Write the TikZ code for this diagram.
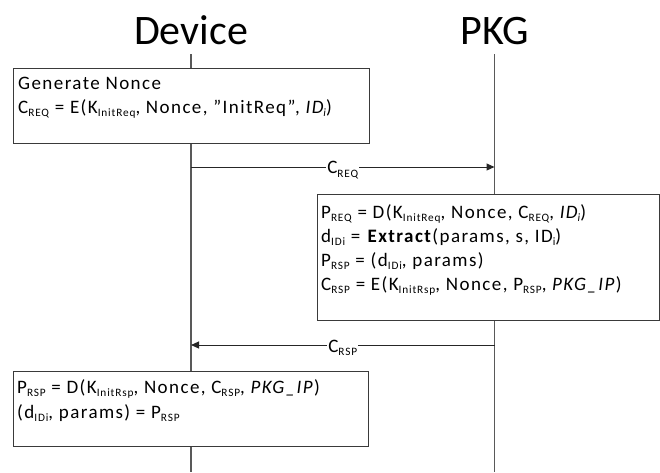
\documentclass[tikz,border=0pt]{standalone}
\usepackage{fontspec}
\setmainfont{Carlito}
\newfontfamily\bodyfont[LetterSpace=7.5]{Carlito}
\usetikzlibrary{arrows.meta}
\newcommand{\sbx}[1]{\raisebox{-3.3pt}{\fontsize{11.3}{11.3}\selectfont #1}}
\definecolor{linegray}{HTML}{595959}
\definecolor{boxgray}{HTML}{3A3A3A}
\tikzset{
  actor/.style={font=\fontsize{42}{46}\selectfont, anchor=base, inner sep=0pt},
  life/.style={draw=linegray, line width=1.3pt},
  pbox/.style={draw=boxgray, line width=1.2pt, fill=white, anchor=north west, inner sep=0pt},
  txt/.style={font=\bodyfont\fontsize{19}{24}\selectfont, anchor=base west, inner sep=0pt},
  msg/.style={draw=black!85, line width=1pt, -{Triangle[length=8pt,width=7pt]}},
  mlabel/.style={font=\bodyfont\fontsize{19}{24}\selectfont, fill=white, inner sep=1pt, yshift=-3pt}
}
\begin{document}
\begin{tikzpicture}[x=1pt,y=-1pt]
\useasboundingbox (0,0) rectangle (660,472);
% actors
\node[actor] (dev) at (191,44) {Device};
\node[actor] (pkg) at (494.5,44) {PKG};
\coordinate (devtop) at (191,54);
\coordinate (devbot) at (191,472);
\coordinate (pkgtop) at (494.5,54);
\coordinate (pkgbot) at (494.5,472);
\draw[life] (devtop) -- (devbot);
\draw[life] (pkgtop) -- (pkgbot);
% box 1
\node[pbox, minimum width=356pt, minimum height=75pt] (b1) at (13,68) {};
\node[txt] (b1l1) at (18,89) {Generate Nonce};
\node[txt] (b1l2) at (18,113) {C\sbx{REQ} = E(K\sbx{InitReq}, Nonce, ”InitReq”, \textit{ID\sbx{i}})};
% message 1
\coordinate (m1a) at (191,167);
\coordinate (m1b) at (494.5,167);
\draw[msg] (m1a) -- (m1b) node[mlabel, midway] (m1l) {C\sbx{REQ}};
% box 2
\node[pbox, minimum width=342pt, minimum height=126pt] (b2) at (317,194) {};
\node[txt] (b2l1) at (321,218) {P\sbx{REQ} = D(K\sbx{InitReq}, Nonce, C\sbx{REQ}, \textit{ID\sbx{i}})};
\node[txt] (b2l2) at (321,242.5) {d\sbx{IDi} = \textbf{Extract}(params, s, ID\sbx{i})};
\node[txt] (b2l3) at (321,266.5) {P\sbx{RSP} = (d\sbx{IDi}, params)};
\node[txt] (b2l4) at (321,290.5) {C\sbx{RSP} = E(K\sbx{InitRsp}, Nonce, P\sbx{RSP}, \textit{PKG\_IP})};
% message 2
\coordinate (m2a) at (494.5,345);
\coordinate (m2b) at (191,345);
\draw[msg] (m2a) -- (m2b) node[mlabel, midway] (m2l) {C\sbx{RSP}};
% box 3
\node[pbox, minimum width=355pt, minimum height=75pt] (b3) at (13,371) {};
\node[txt] (b3l1) at (17,393) {P\sbx{RSP} = D(K\sbx{InitRsp}, Nonce, C\sbx{RSP}, \textit{PKG\_IP})};
\node[txt] (b3l2) at (17,418) {(d\sbx{IDi}, params) = P\sbx{RSP}};
\end{tikzpicture}
\end{document}
